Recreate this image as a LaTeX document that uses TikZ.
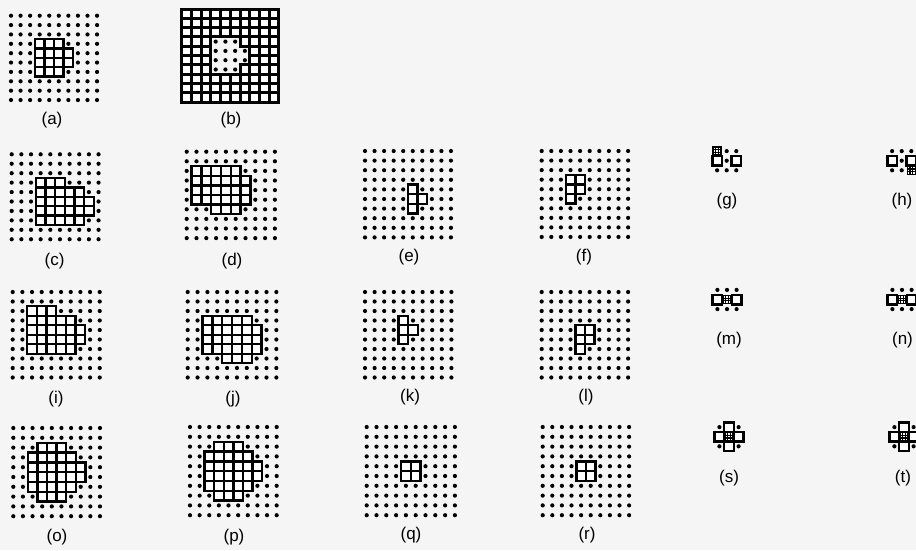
\documentclass[tikz,border=0pt]{standalone}
\usepackage{fontspec}
\setmainfont{Liberation Sans}
\newcommand\dgrid[4]{%
  \foreach \i in {0,...,9}{\foreach \j in {0,...,9}{\fill (#1+\j*#3, #2+\i*#4) circle (2.1pt);}}}
\newcommand\cellrows[5]{%
  \foreach \r/\a/\b in {#5}{\foreach \c in {\a,...,\b}{\draw[cell] (#1+\c*#3-#3/2, #2+\r*#4-#4/2) rectangle ++(#3,#4);}}}
\newcommand\orgmark[2]{%
  \draw[line width=1.5pt,fill=white] (#1-4,#2-4) rectangle (#1+4,#2+4);
  \draw[line width=1.1pt] (#1-1.33,#2-4) -- (#1-1.33,#2+4) (#1+1.33,#2-4) -- (#1+1.33,#2+4)
        (#1-4,#2-1.33) -- (#1+4,#2-1.33) (#1-4,#2+1.33) -- (#1+4,#2+1.33);}
\newcommand\icon[5]{%
  \foreach \r/\c in {#3}{\fill (#1+\c*9.6, #2+\r*9.6) circle (2.1pt);}
  \foreach \r/\c in {#4}{\draw[cell] (#1+\c*9.6-4.8, #2+\r*9.6-4.8) rectangle ++(9.6,9.6);}
  \foreach \r/\c in {#5}{\orgmark{#1+\c*9.6}{#2+\r*9.6}}}
\begin{document}
\begin{tikzpicture}[x=1pt,y=-1pt,
  cell/.style={draw=black,fill=white,line width=2.4pt},
  bcell/.style={draw=black,fill=white,line width=3pt},
  lab/.style={font=\fontsize{17}{17}\selectfont,inner sep=0pt}]
\fill[black!4] (0,0) rectangle (916,550);
\useasboundingbox (0,0) rectangle (916,550);
\clip (0,0) rectangle (916,550);
% (a)
\dgrid{11}{15.7}{9.56}{9.37}
\cellrows{11}{15.7}{9.56}{9.37}{3/3/5,4/3/6,5/3/6,6/3/5}
% (b)
\foreach \r in {0,...,9}{\foreach \c in {0,...,9}{%
  \pgfmathtruncatemacro\inhole{((\r>2)&&(\r<7)&&(\c>2)&&(\c<6))||((\r>3)&&(\r<6)&&(\c==6))}
  \ifnum\inhole=0 \draw[bcell] (186.5+\c*9.73-4.865, 13.7+\r*9.3-4.65) rectangle ++(9.73,9.3);\fi}}
\foreach \r/\c in {3/3,3/4,3/5,4/3,4/4,4/5,4/6,5/3,5/4,5/5,5/6,6/3,6/4,6/5}{\fill (186.5+\c*9.73, 13.7+\r*9.3) circle (2.1pt);}
% (c)
\dgrid{11.7}{154.3}{9.65}{9.44}
\cellrows{11.7}{154.3}{9.65}{9.44}{3/3/5,4/3/7,5/3/8,6/3/8,7/3/7}
% (d)
\dgrid{186.7}{151.7}{9.8}{9.6}
\cellrows{186.7}{151.7}{9.8}{9.6}{2/1/5,3/1/6,4/1/6,5/1/6,6/3/5}
% (e)
\dgrid{365}{151}{9.55}{9.6}
\cellrows{365}{151}{9.55}{9.6}{4/5/5,5/5/6,6/5/5}
% (f)
\dgrid{541.7}{151}{9.6}{9.55}
\cellrows{541.7}{151}{9.6}{9.55}{3/3/4,4/3/4,5/3/3}
% (i)
\dgrid{12.7}{292}{9.67}{9.5}
\cellrows{12.7}{292}{9.67}{9.5}{2/2/4,3/2/6,4/2/7,5/2/7,6/2/6}
% (j)
\dgrid{187.7}{292}{9.85}{9.5}
\cellrows{187.7}{292}{9.85}{9.5}{3/2/6,4/2/7,5/2/7,6/2/7,7/4/6}
% (k)
\dgrid{365}{292}{9.6}{9.5}
\cellrows{365}{292}{9.6}{9.5}{3/4/4,4/4/5,5/4/4}
% (l)
\dgrid{541.7}{292}{9.6}{9.5}
\cellrows{541.7}{292}{9.6}{9.5}{4/4/5,5/4/5,6/4/4}
% (o)
\dgrid{13.3}{428}{9.63}{9.8}
\cellrows{13.3}{428}{9.63}{9.8}{2/3/5,3/2/6,4/2/7,5/2/7,6/2/6,7/3/5}
% (p)
\dgrid{190}{427}{9.63}{9.8}
\cellrows{190}{427}{9.63}{9.8}{2/3/5,3/2/6,4/2/7,5/2/7,6/2/6,7/3/5}
% (q)
\dgrid{366.7}{427}{9.8}{9.8}
\cellrows{366.7}{427}{9.8}{9.8}{4/4/5,5/4/5}
% (r)
\dgrid{542.7}{427}{9.6}{9.8}
\cellrows{542.7}{427}{9.6}{9.8}{4/4/5,5/4/5}
% icons
\icon{726.7}{160.7}{-1/0,-1/1,0/0,1/-1,1/0,1/1}{0/-1,0/1}{-1/-1}
\icon{901.7}{160.7}{1/0,1/-1,0/0,-1/1,-1/0,-1/-1}{0/1,0/-1}{1/1}
\icon{727}{299.5}{-1/-1,-1/0,-1/1,1/-1,1/0,1/1}{0/-1,0/1}{0/0}
\icon{902}{299.5}{-1/-1,-1/0,-1/1,1/-1,1/0,1/1}{0/-1,0/1}{0/0}
\icon{729}{436.7}{-1/-1,-1/1,1/-1,1/1}{-1/0,0/-1,0/1,1/0}{0/0}
\icon{904}{436.7}{-1/-1,-1/1,1/-1,1/1}{-1/0,0/-1,0/1,1/0}{0/0}
% labels
\node[lab] (la) at (52,120) {(a)};
\node[lab] (lb) at (231,120) {(b)};
\node[lab] (lc) at (54.5,261) {(c)};
\node[lab] (ld) at (232,261) {(d)};
\node[lab] (le) at (409,257) {(e)};
\node[lab] (lf) at (584,257) {(f)};
\node[lab] (lg) at (727,201) {(g)};
\node[lab] (lh) at (902,201) {(h)};
\node[lab] (li) at (56,399) {(i)};
\node[lab] (lj) at (233,399) {(j)};
\node[lab] (lk) at (410,397) {(k)};
\node[lab] (ll) at (586,397) {(l)};
\node[lab] (lm) at (729,340) {(m)};
\node[lab] (ln) at (902.5,340) {(n)};
\node[lab] (lo) at (57,537) {(o)};
\node[lab] (lp) at (234,537) {(p)};
\node[lab] (lq) at (411,535) {(q)};
\node[lab] (lr) at (587,535) {(r)};
\node[lab] (ls) at (729,478) {(s)};
\node[lab] (lt) at (903,478) {(t)};
\end{tikzpicture}
\end{document}
